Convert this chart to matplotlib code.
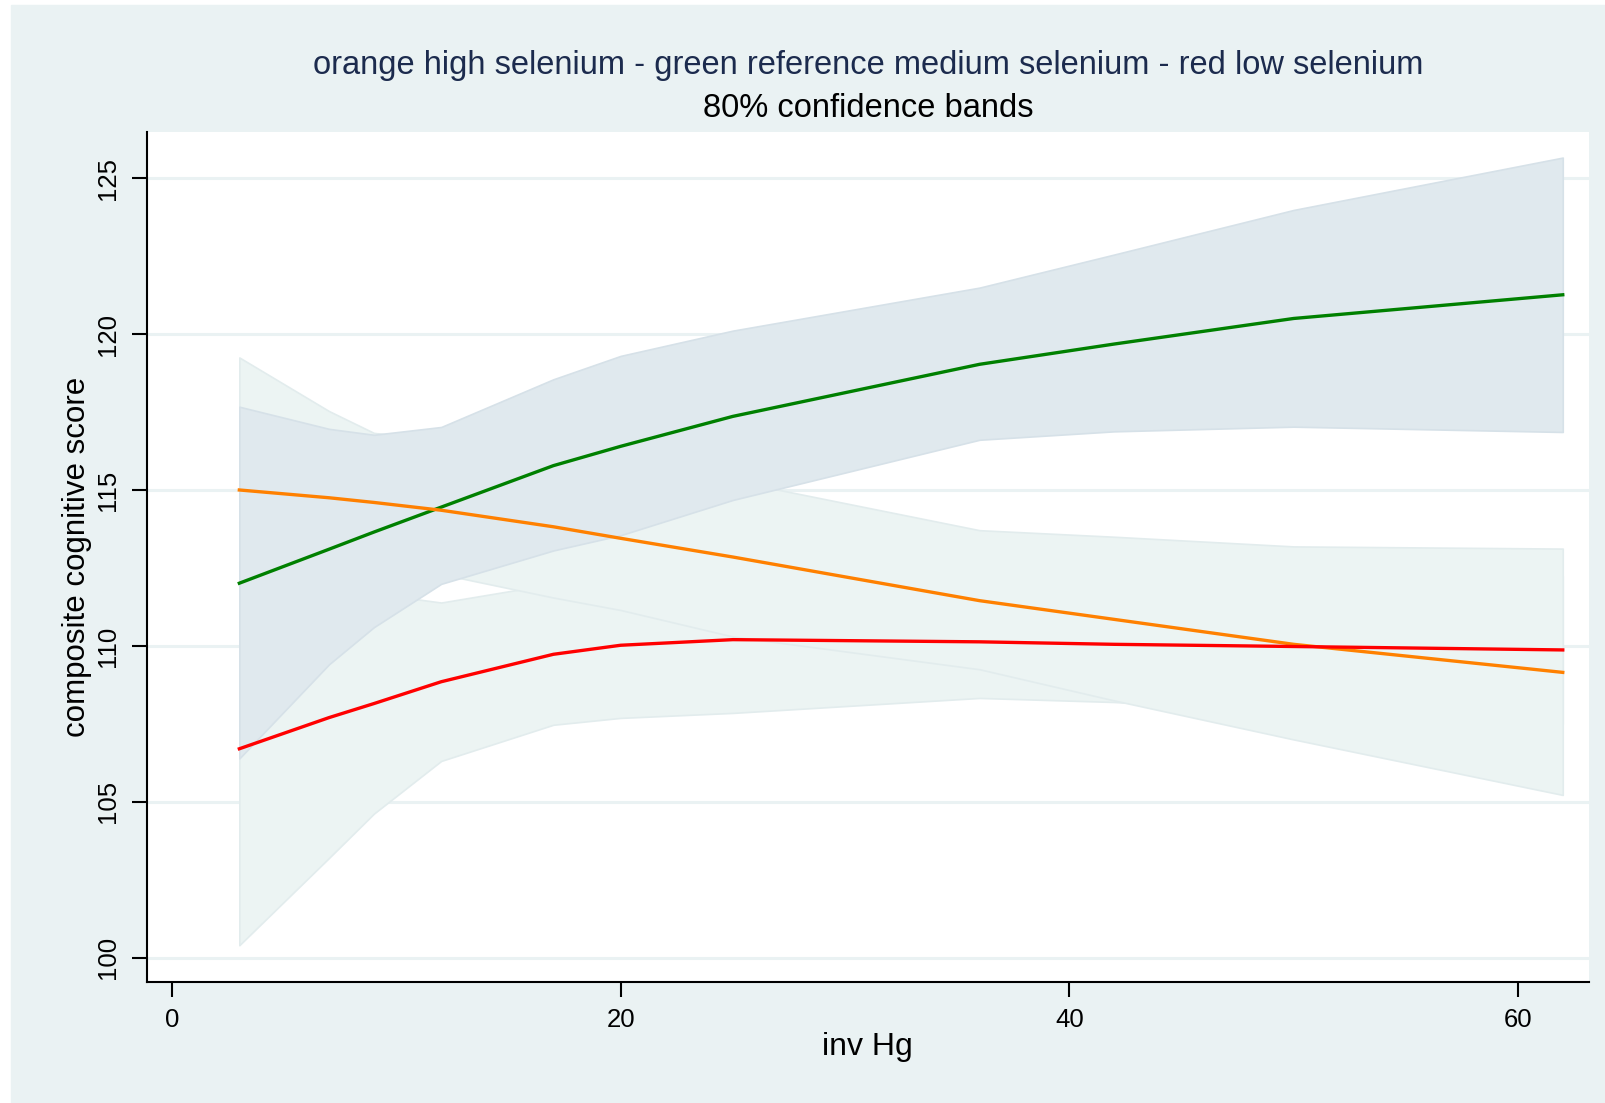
import matplotlib
matplotlib.use("Agg")
import matplotlib.pyplot as plt
from matplotlib.patches import Rectangle

plt.rcParams['font.family'] = ['Liberation Sans', 'DejaVu Sans']

# inv Hg values where the fitted curves are evaluated
inv_hg = [3, 7, 9, 12, 17, 20, 25, 36, 42, 50, 62]

# green: reference medium selenium
green_mid = [112.01, 113.10, 113.65, 114.45, 115.78, 116.40, 117.36, 119.03, 119.68, 120.50, 121.26]
green_lo = [106.39, 109.41, 110.60, 111.99, 113.06, 113.55, 114.68, 116.61, 116.88, 117.03, 116.86]
green_hi = [117.67, 116.96, 116.77, 117.02, 118.55, 119.30, 120.11, 121.49, 122.55, 123.98, 125.66]

# orange: high selenium
orange_mid = [115.00, 114.75, 114.60, 114.35, 113.82, 113.45, 112.85, 111.45, 110.85, 110.05, 109.15]
orange_lo = [110.75, 112.00, 112.37, 112.30, 111.55, 111.15, 110.30, 109.25, 108.25, 107.00, 105.22]
orange_hi = [119.25, 117.53, 116.83, 116.60, 116.20, 115.80, 115.30, 113.71, 113.50, 113.19, 113.12]

# red: low selenium
red_mid = [106.70, 107.70, 108.15, 108.85, 109.73, 110.02, 110.20, 110.13, 110.05, 109.98, 109.87]
red_lo = [100.40, 103.20, 104.62, 106.31, 107.47, 107.69, 107.85, 108.33, 108.20, 107.90, 107.50]
red_hi = [113.00, 112.20, 111.68, 111.39, 111.99, 112.35, 112.55, 111.93, 111.90, 112.06, 112.24]

x_ticks = [0, 20, 40, 60]
y_ticks = [100, 105, 110, 115, 120, 125]

W, H = 1606, 1103
bg = "#EAF2F3"
light_fill, light_edge = "#ECF4F3", "#E2ECED"
dark_fill, dark_edge = "#E0E9EE", "#D6E1E8"

fig = plt.figure(figsize=(W / 100, H / 100), dpi=100, facecolor="white")
# outer graph region (thin white border on left/top)
fig.patches.append(Rectangle((11 / W, 0), 1 - 11 / W, 1 - 5 / H,
                             transform=fig.transFigure, color=bg, zorder=-10))

ax = fig.add_axes([146.7 / W, 1 - 981.7 / H, (1589 - 146.7) / W, (981.7 - 131.7) / H])
ax.set_facecolor("white")
ax.set_xlim(-1.13, 63.17)
ax.set_ylim(99.23, 126.49)

for yt in y_ticks:
    ax.axhline(yt, color=bg, lw=2.2, zorder=1)

ax.fill_between(inv_hg, red_lo, red_hi, facecolor=light_fill, edgecolor=light_edge, lw=1.2, zorder=2)
ax.fill_between(inv_hg, orange_lo, orange_hi, facecolor=light_fill, edgecolor=light_edge, lw=1.2, zorder=2)
ax.fill_between(inv_hg, green_lo, green_hi, facecolor=dark_fill, edgecolor=dark_edge, lw=1.2, zorder=3)

ax.plot(inv_hg, green_mid, color="#008000", lw=2.4, zorder=5)
ax.plot(inv_hg, orange_mid, color="#FF8000", lw=2.4, zorder=5)
ax.plot(inv_hg, red_mid, color="#FF0000", lw=2.4, zorder=5)

for s in ["top", "right"]:
    ax.spines[s].set_visible(False)
for s in ["left", "bottom"]:
    ax.spines[s].set_linewidth(1.5)
    ax.spines[s].set_color("black")

ax.set_xticks(x_ticks)
ax.set_yticks(y_ticks)
ax.tick_params(axis="both", direction="out", length=11, width=1.5, labelsize=18.5, pad=8)
for lbl in ax.get_yticklabels():
    lbl.set_rotation(90)
    lbl.set_va("center")

ax.set_xlabel("inv Hg", fontsize=23)
ax.set_ylabel("composite cognitive score", fontsize=22.5)
ax.xaxis.set_label_coords(0.5, (981.7 - 1047) / 850)
ax.xaxis.label.set_va("center")
ax.yaxis.set_label_coords((77 - 146.7) / 1442.3, 0.5)
ax.yaxis.label.set_va("center")

cx = (146.7 + 1589) / 2 / W
fig.text(cx, 1 - 65.5 / H, "orange high selenium - green reference medium selenium - red low selenium",
         ha="center", va="center", fontsize=23.5, color="#1C2B4E")
fig.text(cx, 1 - 108.5 / H, "80% confidence bands", ha="center", va="center", fontsize=23.5, color="black")

fig.savefig("out.png", dpi=100, facecolor=fig.get_facecolor())
